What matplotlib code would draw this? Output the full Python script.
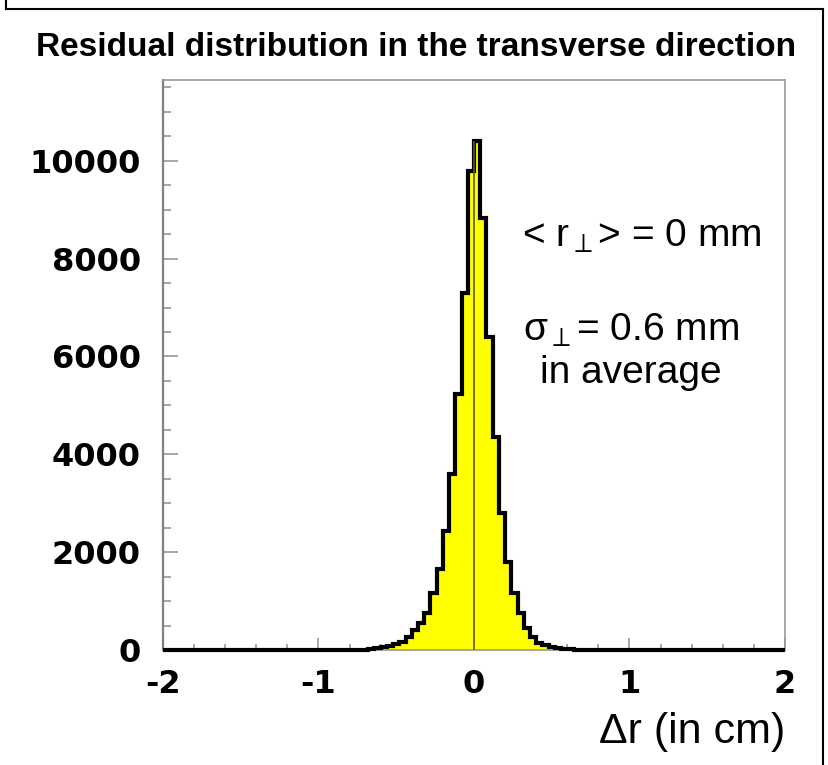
import matplotlib
matplotlib.use("Agg")
import matplotlib.pyplot as plt
from matplotlib.lines import Line2D
import numpy as np

plt.rcParams['font.family'] = ['Liberation Sans', 'DejaVu Sans']
plt.rcParams['mathtext.fontset'] = 'custom'
plt.rcParams['mathtext.rm'] = 'Liberation Sans'
plt.rcParams['mathtext.it'] = 'Liberation Sans'

# histogram: 100 bins of 0.04 cm between -2 and 2
bin_edges = np.linspace(-2, 2, 101)
counts = [
    0, 0, 0, 0, 0, 0, 0, 0, 0, 0,
    0, 0, 0, 0, 0, 0, 0, 0, 0, 0,
    1, 1, 1, 1, 2, 2, 2, 3, 3, 4,
    5, 6, 10, 20, 35, 55, 82, 113, 160, 270,
    405, 545, 750, 1160, 1650, 2440, 3600, 5240, 7290, 9780,
    10400, 8830, 6400, 4350, 2810, 1800, 1175, 750, 457, 270,
    150, 102, 68, 41, 25, 12, 6, 4, 2, 2,
    1, 1, 1, 1, 1, 0, 0, 0, 0, 0,
    0, 0, 0, 0, 0, 0, 0, 0, 0, 0,
    0, 0, 0, 0, 0, 0, 0, 0, 0, 0,
]
counts = np.array(counts)

x_ticks = [-2, -1, 0, 1, 2]
y_ticks = [0, 2000, 4000, 6000, 8000, 10000]

fig = plt.figure(figsize=(8.29, 7.65), dpi=100)
ax = fig.add_axes([163 / 829, 1 - 650 / 765, 622 / 829, 570 / 765])

ax.stairs(counts, bin_edges, fill=True, color='#ffff00', zorder=2)
ax.stairs(counts, bin_edges, color='black', linewidth=3.0, zorder=3, clip_on=False)
ax.vlines(0, 0, counts[50], color='#5c5c00', linewidth=1.2, zorder=4)

ax.set_xlim(-2, 2)
ax.set_ylim(0, 11650)
ax.set_xticks(x_ticks)
ax.set_xticklabels([str(v) for v in x_ticks])
ax.set_yticks(y_ticks)
ax.set_yticklabels([str(v) for v in y_ticks])
ax.set_xticks(np.arange(-2, 2.01, 0.2), minor=True)
ax.set_yticks(np.arange(0, 11650, 500), minor=True)

for s in ax.spines.values():
    s.set_color('#9a9a9a')
    s.set_linewidth(1.2)
ax.spines['left'].set_color('#808080')
ax.spines['left'].set_linewidth(1.6)

ax.tick_params(axis='both', which='both', direction='in', color='#909090', width=1.1)
ax.tick_params(axis='x', which='major', length=9, pad=14, labelsize=23)
ax.tick_params(axis='x', which='minor', length=4.5)
ax.tick_params(axis='y', which='major', length=11, pad=16, labelsize=23)
ax.tick_params(axis='y', which='minor', length=6)
for lab in ax.get_xticklabels() + ax.get_yticklabels():
    lab.set_fontweight('bold')
    lab.set_family('DejaVu Sans')

fig.text(416 / 829, 1 - 47 / 765, 'Residual distribution in the transverse direction',
         ha='center', va='center', fontsize=24, fontweight='bold')
fig.text(785 / 829, 1 - 732 / 765, '\u0394r (in cm)', ha='right', va='center', fontsize=31)

ax.text(642 / 829, 1 - 236 / 765, r'< $\mathregular{r_{\perp}}$> = 0 mm', transform=fig.transFigure,
        ha='center', va='center', fontsize=28)
ax.text(631 / 829, 1 - 330 / 765, r'$\mathregular{\sigma_{\perp}}$= 0.6 mm', transform=fig.transFigure,
        ha='center', va='center', fontsize=28)
ax.text(631 / 829, 1 - 373 / 765, 'in average', transform=fig.transFigure,
        ha='center', va='center', fontsize=28)

# outer frame of the picture
for xs, ys in [([6, 6], [0, 9]), ([6, 823], [9, 9]), ([823, 823], [9, 765])]:
    fig.add_artist(Line2D([x / 829 for x in xs], [1 - y / 765 for y in ys],
                          color='black', linewidth=1.5))

fig.savefig('out.png', dpi=100)
